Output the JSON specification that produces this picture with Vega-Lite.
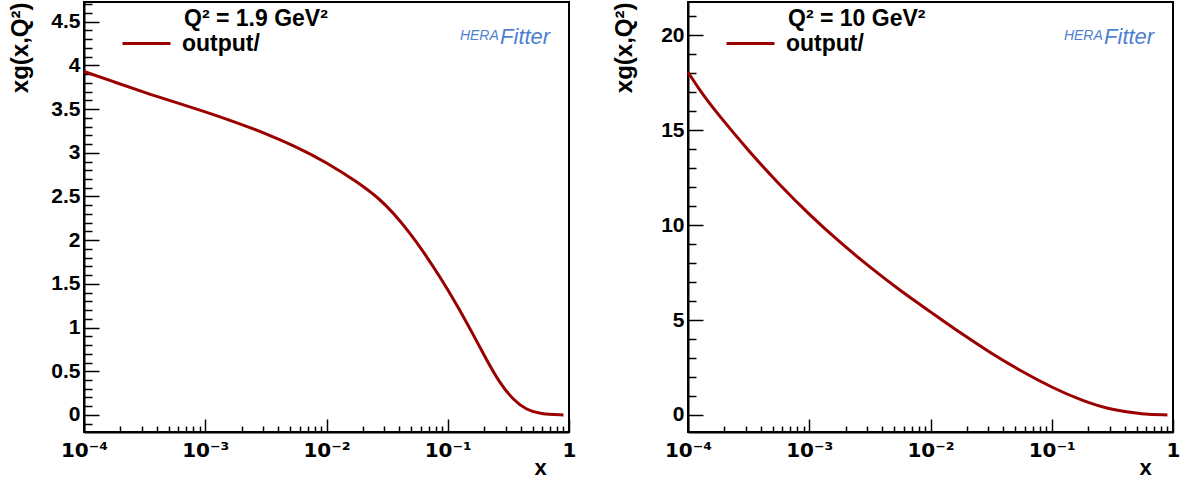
{
  "$schema": "https://vega.github.io/schema/vega-lite/v6.json",
  "background": "white",
  "padding": {"left": 7, "top": 1, "right": 0, "bottom": 0},
  "bounds": "flush",
  "spacing": 119,
  "datasets": {
    "g19": [
      {"x": 0.0001, "xg": 3.93, "series": "output/"},
      {"x": 0.000178, "xg": 3.81, "series": "output/"},
      {"x": 0.000316, "xg": 3.69, "series": "output/"},
      {"x": 0.000562, "xg": 3.58, "series": "output/"},
      {"x": 0.001, "xg": 3.47, "series": "output/"},
      {"x": 0.00178, "xg": 3.35, "series": "output/"},
      {"x": 0.00316, "xg": 3.22, "series": "output/"},
      {"x": 0.00562, "xg": 3.07, "series": "output/"},
      {"x": 0.01, "xg": 2.89, "series": "output/"},
      {"x": 0.0178, "xg": 2.67, "series": "output/"},
      {"x": 0.0276, "xg": 2.47, "series": "output/"},
      {"x": 0.0356, "xg": 2.31, "series": "output/"},
      {"x": 0.0489, "xg": 2.08, "series": "output/"},
      {"x": 0.0628, "xg": 1.87, "series": "output/"},
      {"x": 0.0863, "xg": 1.58, "series": "output/"},
      {"x": 0.119, "xg": 1.26, "series": "output/"},
      {"x": 0.163, "xg": 0.915, "series": "output/"},
      {"x": 0.209, "xg": 0.63, "series": "output/"},
      {"x": 0.27, "xg": 0.36, "series": "output/"},
      {"x": 0.348, "xg": 0.17, "series": "output/"},
      {"x": 0.448, "xg": 0.057, "series": "output/"},
      {"x": 0.577, "xg": 0.011, "series": "output/"},
      {"x": 0.9, "xg": 0.0, "series": "output/"}
    ],
    "g10": [
      {"x": 0.0001, "xg": 18.05, "series": "output/"},
      {"x": 0.000126, "xg": 17.05, "series": "output/"},
      {"x": 0.000178, "xg": 15.8, "series": "output/"},
      {"x": 0.000316, "xg": 13.9, "series": "output/"},
      {"x": 0.000562, "xg": 12.15, "series": "output/"},
      {"x": 0.001, "xg": 10.55, "series": "output/"},
      {"x": 0.00178, "xg": 9.1, "series": "output/"},
      {"x": 0.00316, "xg": 7.78, "series": "output/"},
      {"x": 0.00562, "xg": 6.55, "series": "output/"},
      {"x": 0.01, "xg": 5.43, "series": "output/"},
      {"x": 0.0178, "xg": 4.3, "series": "output/"},
      {"x": 0.0316, "xg": 3.25, "series": "output/"},
      {"x": 0.0562, "xg": 2.3, "series": "output/"},
      {"x": 0.1, "xg": 1.45, "series": "output/"},
      {"x": 0.178, "xg": 0.75, "series": "output/"},
      {"x": 0.316, "xg": 0.25, "series": "output/"},
      {"x": 0.562, "xg": 0.04, "series": "output/"},
      {"x": 0.9, "xg": 0.0, "series": "output/"}
    ],
    "logo": [{"part": "text"}]
  },
  "config": {
    "view": {"stroke": "black", "strokeWidth": 2},
    "font": "Liberation Sans",
    "axis": {
      "domainColor": "black", "domainWidth": 2,
      "tickColor": "black", "tickWidth": 1.5,
      "labelFont": "Liberation Sans", "labelFontWeight": "bold", "labelFontSize": 21, "labelColor": "black",
      "titleFont": "Liberation Sans", "titleFontWeight": "bold", "titleFontSize": 24, "titleColor": "black",
      "grid": false, "labelOverlap": false, "labelBound": false, "labelFlush": false
    },
    "legend": {
      "orient": "none", "legendX": 37, "legendY": 16, "padding": 0,
      "symbolType": "stroke", "symbolSize": 2304, "symbolStrokeWidth": 3,
      "labelFont": "Liberation Sans", "labelFontSize": 23, "labelFontWeight": "bold", "labelColor": "black", "labelOffset": 10
    }
  },
  "hconcat": [
    {
      "width": 485, "height": 430,
      "resolve": {"axis": {"x": "independent", "y": "independent"}},
      "layer": [
        {
          "data": {"name": "g19"},
          "mark": {"type": "line", "strokeWidth": 3, "interpolate": "basis"},
          "encoding": {
            "x": {"field": "x", "type": "quantitative", "scale": {"type": "log", "domain": [0.0001, 1], "nice": false},
              "axis": {
                "orient": "bottom",
                "values": [0.0001, 0.001, 0.01, 0.1, 1],
                "labelExpr": "datum.value==0.0001?'10⁻⁴':datum.value==0.001?'10⁻³':datum.value==0.01?'10⁻²':datum.value==0.1?'10⁻¹':'1'",
                "labelFont": "DejaVu Sans", "labelFontSize": 20,
                "tickSize": -13, "labelPadding": 21,
                "title": "x", "titleFontSize": 22, "titleX": 456, "titleY": 35, "titleAlign": "center", "titleBaseline": "middle"
              }},
            "y": {"field": "xg", "type": "quantitative", "scale": {"domain": [-0.195, 4.725], "nice": false, "zero": false},
              "axis": {
                "orient": "left",
                "values": [0, 0.5, 1, 1.5, 2, 2.5, 3, 3.5, 4, 4.5],
                "labelExpr": "'' + datum.value",
                "tickSize": -15, "labelPadding": 19,
                "title": "xg(x,Q²)", "titleX": -64, "titleY": 0, "titleAngle": -90, "titleAlign": "right", "titleBaseline": "middle"
              }},
            "color": {"field": "series", "type": "nominal", "scale": {"range": ["#9b0000"]}, "legend": {"title": null}}
          }
        },
        {
          "data": {"name": "logo"},
          "mark": {"type": "text", "font": "Liberation Sans", "fontWeight": "bold", "fontSize": 23, "color": "black", "align": "left", "baseline": "alphabetic"},
          "encoding": {
            "x": {"datum": 0.000668, "type": "quantitative",
              "axis": {"orient": "bottom", "values": [0.0002,0.0003,0.0004,0.0005,0.0006,0.0007,0.0008,0.0009,0.002,0.003,0.004,0.005,0.006,0.007,0.008,0.009,0.02,0.03,0.04,0.05,0.06,0.07,0.08,0.09,0.2,0.3,0.4,0.5,0.6,0.7,0.8,0.9], "labels": false, "domain": false, "tickSize": -6, "title": null}},
            "y": {"datum": 4.451, "type": "quantitative",
              "axis": {"orient": "left", "values": [-0.1,0.1,0.2,0.3,0.4,0.6,0.7,0.8,0.9,1.1,1.2,1.3,1.4,1.6,1.7,1.8,1.9,2.1,2.2,2.3,2.4,2.6,2.7,2.8,2.9,3.1,3.2,3.3,3.4,3.6,3.7,3.8,3.9,4.1,4.2,4.3,4.4,4.6,4.7], "labels": false, "domain": false, "tickSize": -8, "title": null}},
            "text": {"value": "Q² = 1.9 GeV²"}
          }
        },
        {
          "data": {"name": "logo"},
          "mark": {"type": "text", "font": "Liberation Sans", "fontStyle": "italic", "fontSize": 14, "color": "#4f7fd1", "align": "left", "baseline": "alphabetic"},
          "encoding": {"x": {"datum": 0.126, "type": "quantitative", "axis": null}, "y": {"datum": 4.29, "type": "quantitative", "axis": null}, "text": {"value": "HERA"}}
        },
        {
          "data": {"name": "logo"},
          "mark": {"type": "text", "font": "Liberation Sans", "fontStyle": "italic", "fontSize": 22, "color": "#4f7fd1", "align": "left", "baseline": "alphabetic"},
          "encoding": {"x": {"datum": 0.27, "type": "quantitative", "axis": null}, "y": {"datum": 4.245, "type": "quantitative", "axis": null}, "text": {"value": "Fitter"}}
        }
      ]
    },
    {
      "width": 485, "height": 430,
      "resolve": {"axis": {"x": "independent", "y": "independent"}},
      "layer": [
        {
          "data": {"name": "g10"},
          "mark": {"type": "line", "strokeWidth": 3, "interpolate": "basis"},
          "encoding": {
            "x": {"field": "x", "type": "quantitative", "scale": {"type": "log", "domain": [0.0001, 1], "nice": false},
              "axis": {
                "orient": "bottom",
                "values": [0.0001, 0.001, 0.01, 0.1, 1],
                "labelExpr": "datum.value==0.0001?'10⁻⁴':datum.value==0.001?'10⁻³':datum.value==0.01?'10⁻²':datum.value==0.1?'10⁻¹':'1'",
                "labelFont": "DejaVu Sans", "labelFontSize": 20,
                "tickSize": -13, "labelPadding": 21,
                "title": "x", "titleFontSize": 22, "titleX": 457, "titleY": 35, "titleAlign": "center", "titleBaseline": "middle"
              }},
            "y": {"field": "xg", "type": "quantitative", "scale": {"domain": [-0.895, 21.74], "nice": false, "zero": false},
              "axis": {
                "orient": "left",
                "values": [0, 5, 10, 15, 20],
                "labelExpr": "'' + datum.value",
                "tickSize": -15, "labelPadding": 19,
                "title": "xg(x,Q²)", "titleX": -64, "titleY": 0, "titleAngle": -90, "titleAlign": "right", "titleBaseline": "middle"
              }},
            "color": {"field": "series", "type": "nominal", "scale": {"range": ["#9b0000"]}, "legend": {"title": null}}
          }
        },
        {
          "data": {"name": "logo"},
          "mark": {"type": "text", "font": "Liberation Sans", "fontWeight": "bold", "fontSize": 23, "color": "black", "align": "left", "baseline": "alphabetic"},
          "encoding": {
            "x": {"datum": 0.000668, "type": "quantitative",
              "axis": {"orient": "bottom", "values": [0.0002,0.0003,0.0004,0.0005,0.0006,0.0007,0.0008,0.0009,0.002,0.003,0.004,0.005,0.006,0.007,0.008,0.009,0.02,0.03,0.04,0.05,0.06,0.07,0.08,0.09,0.2,0.3,0.4,0.5,0.6,0.7,0.8,0.9], "labels": false, "domain": false, "tickSize": -6, "title": null}},
            "y": {"datum": 20.47, "type": "quantitative",
              "axis": {"orient": "left", "values": [1,2,3,4,6,7,8,9,11,12,13,14,16,17,18,19,21], "labels": false, "domain": false, "tickSize": -8, "title": null}},
            "text": {"value": "Q² = 10 GeV²"}
          }
        },
        {
          "data": {"name": "logo"},
          "mark": {"type": "text", "font": "Liberation Sans", "fontStyle": "italic", "fontSize": 14, "color": "#4f7fd1", "align": "left", "baseline": "alphabetic"},
          "encoding": {"x": {"datum": 0.126, "type": "quantitative", "axis": null}, "y": {"datum": 19.74, "type": "quantitative", "axis": null}, "text": {"value": "HERA"}}
        },
        {
          "data": {"name": "logo"},
          "mark": {"type": "text", "font": "Liberation Sans", "fontStyle": "italic", "fontSize": 22, "color": "#4f7fd1", "align": "left", "baseline": "alphabetic"},
          "encoding": {"x": {"datum": 0.27, "type": "quantitative", "axis": null}, "y": {"datum": 19.53, "type": "quantitative", "axis": null}, "text": {"value": "Fitter"}}
        }
      ]
    }
  ],
  "resolve": {"scale": {"color": "independent"}, "legend": {"color": "independent"}}
}
